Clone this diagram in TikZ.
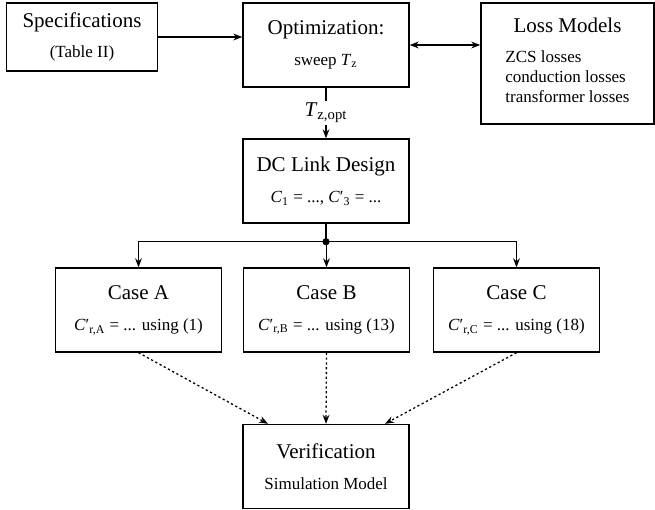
\documentclass[tikz,border=0pt]{standalone}
\usepackage{fontspec}
\setmainfont{Liberation Serif}
\usetikzlibrary{positioning, arrows.meta}

\newcommand{\smalltext}{\fontsize{8.5}{10.2}\selectfont}
\newcommand{\capvar}[2]{\textit{#1}\textsubscript{#2}}

\tikzset{
	box/.style = {draw, line width = 0.7pt, minimum width = 83pt, minimum height = 42pt, align = center, inner sep = 2pt},
	flow/.style = {line width = 0.65pt, -{Stealth[length = 4.5pt, width = 3.4pt]}},
	check/.style = {flow, dash pattern = on 1.1pt off 1.3pt}
}

\begin{document}
\begin{tikzpicture}[x = 0.5pt, y = -0.5pt, font = \fontsize{10.5}{12.6}\selectfont]
	\useasboundingbox (0,0) rectangle (655,510);

	% top row
	\node [box, minimum width = 75.5pt, minimum height = 34pt] (spec) at (82,37) {Specifications\\[2.2pt]{\smalltext (Table II)}};
	\node [box] (opt) at (326,45) {Optimization:\\[3.2pt]{\smalltext sweep \capvar{T}{z}}};
	\node [box, minimum width = 86.5pt, minimum height = 60.5pt] (loss) at (567.5,63.5) {Loss Models\\[6.5pt]{\smalltext\begin{tabular}{@{}l@{}}ZCS losses\\conduction losses\\transformer losses\end{tabular}}};

	\node [box] (dc) at (326,181) {DC Link Design\\[3.2pt]{\smalltext \capvar{C}{1} = ..., \textit{C}′\textsubscript{3} = ...}};

	% the three cases
	\foreach \n/\x/\r in {A/138.5/1, B/326.5/13, C/516.5/18}
	\node [box] (case\n) at (\x,310) {Case \n\\[3.2pt]{\smalltext \textit{C}′\textsubscript{r,\n} = ... using (\r)}};

	\node [box] (ver) at (326,466.5) {Verification\\[3.2pt]{\smalltext Simulation Model}};

	% connectors
	\draw [flow] (spec) -- (spec -| opt.west);
	\draw [flow, {Stealth[length = 4.5pt, width = 3.4pt]}-{Stealth[length = 4.5pt, width = 3.4pt]}] (opt.east) -- (opt.east -| loss.west);
	\draw [flow] (opt) -- node [fill = white, inner sep = 1pt] (topt) {\capvar{T}{z,opt}} (dc);

	\coordinate [below = 9pt of dc.south] (split);
	\draw [line width = 0.65pt] (dc) -- (split);
	\foreach \n in {A,B,C}
	\draw [flow] (split) -| (case\n.north);
	\fill (split) circle (1.8pt);

	\foreach \n/\dx in {A/-29,B/0,C/29.5}
	\draw [check] (case\n.south) -- ([xshift = \dx pt]ver.north);
\end{tikzpicture}
\end{document}
